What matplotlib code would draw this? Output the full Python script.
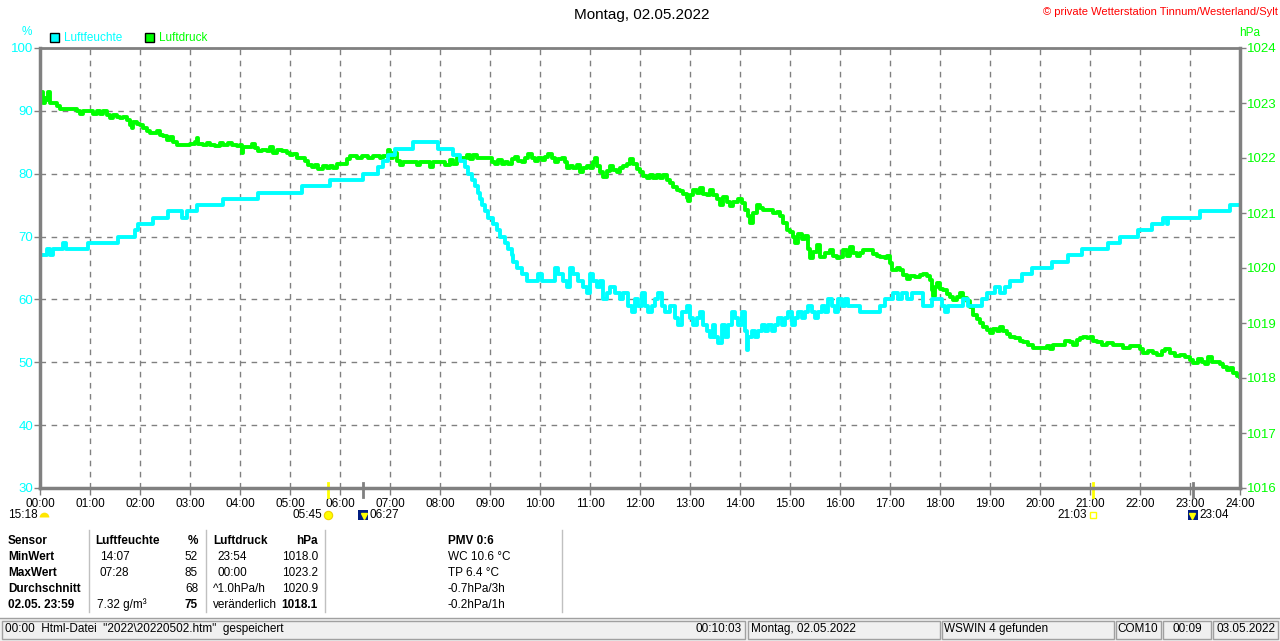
import matplotlib.pyplot as plt
import matplotlib.transforms as mtransforms
from matplotlib.patches import Rectangle
from matplotlib.lines import Line2D

plt.rcParams['font.family'] = ['Liberation Sans', 'DejaVu Sans']

CYAN = '#00ffff'
GREEN = '#00ff00'
GRAY = '#808080'
W, H = 1280, 641

# Luftfeuchte (%), Zeitpunkte der Stufen
hum_time = ['00:00', '00:08', '00:12', '00:16', '00:28', '00:31', '00:58', '01:34', '01:54', '01:58',
            '02:16', '02:34', '02:50', '02:56', '03:08', '03:40', '04:22', '05:14', '05:48', '06:28',
            '06:46', '06:52', '06:58', '07:06', '07:28', '07:58', '08:16', '08:24', '08:30', '08:34',
            '08:38', '08:42', '08:46', '08:48', '08:50', '08:54', '08:58', '09:04', '09:08', '09:12',
            '09:18', '09:22', '09:26', '09:28', '09:32', '09:38', '09:44', '09:58', '10:02', '10:18',
            '10:22', '10:28', '10:32', '10:36', '10:40', '10:46', '10:52', '10:56', '11:00', '11:04',
            '11:08', '11:12', '11:16', '11:20', '11:24', '11:30', '11:36', '11:40', '11:46', '11:50',
            '11:54', '11:58', '12:02', '12:06', '12:10', '12:14', '12:18', '12:22', '12:26', '12:30',
            '12:36', '12:42', '12:46', '12:50', '12:56', '13:00', '13:04', '13:08', '13:12', '13:16',
            '13:20', '13:24', '13:28', '13:30', '13:34', '13:38', '13:42', '13:46', '13:50', '13:54',
            '13:58', '14:02', '14:06', '14:08', '14:10', '14:14', '14:18', '14:22', '14:26', '14:30',
            '14:34', '14:38', '14:42', '14:46', '14:50', '14:54', '14:58', '15:02', '15:06', '15:10',
            '15:14', '15:18', '15:22', '15:26', '15:30', '15:34', '15:38', '15:42', '15:46', '15:50',
            '15:54', '15:58', '16:02', '16:06', '16:10', '16:24', '16:48', '16:54', '17:04', '17:10',
            '17:14', '17:20', '17:26', '17:40', '17:50', '18:02', '18:06', '18:10', '18:28', '18:34',
            '18:50', '18:56', '19:06', '19:12', '19:18', '19:24', '19:38', '19:50', '20:14', '20:34',
            '20:50', '21:22', '21:36', '21:58', '22:14', '22:28', '22:32', '22:34', '23:12', '23:48',
            '24:00']
hum_value = [67, 68, 67, 68, 69, 68, 69, 70, 71, 72,
             73, 74, 73, 74, 75, 76, 77, 78, 79, 80,
             81, 82, 83, 84, 85, 84, 83, 82, 81, 80,
             79, 78, 77, 76, 75, 74, 73, 72, 71, 70,
             69, 68, 67, 66, 65, 64, 63, 64, 63, 65,
             64, 63, 62, 65, 64, 63, 62, 61, 64, 63,
             62, 63, 60, 61, 62, 61, 60, 61, 59, 58,
             60, 59, 61, 59, 58, 59, 60, 61, 59, 58,
             59, 57, 56, 58, 59, 57, 56, 57, 58, 56,
             55, 54, 56, 54, 53, 56, 54, 56, 58, 57,
             56, 58, 55, 52, 54, 55, 54, 55, 56, 55,
             56, 55, 56, 57, 56, 57, 58, 56, 57, 58,
             57, 58, 59, 58, 57, 58, 59, 58, 60, 59,
             58, 60, 59, 60, 59, 58, 59, 60, 61, 60,
             61, 60, 61, 59, 60, 59, 58, 59, 60, 59,
             60, 61, 62, 61, 62, 63, 64, 65, 66, 67,
             68, 69, 70, 71, 72, 73, 72, 73, 74, 75,
             75]

# Luftdruck (hPa)
pres_time = ['00:00', '00:02', '00:04', '00:06', '00:08', '00:10', '00:12', '00:20', '00:24', '00:44',
             '00:48', '00:52', '01:04', '01:08', '01:12', '01:16', '01:20', '01:24', '01:28', '01:32',
             '01:36', '01:40', '01:44', '01:48', '01:50', '01:52', '01:56', '02:00', '02:04', '02:08',
             '02:12', '02:20', '02:24', '02:28', '02:32', '02:36', '02:40', '02:44', '03:00', '03:06',
             '03:08', '03:10', '03:16', '03:20', '03:24', '03:30', '03:36', '03:40', '03:46', '03:50',
             '03:56', '04:00', '04:02', '04:04', '04:14', '04:18', '04:22', '04:26', '04:32', '04:36',
             '04:40', '04:44', '04:50', '04:56', '05:00', '05:04', '05:08', '05:18', '05:22', '05:26',
             '05:30', '05:34', '05:40', '05:44', '05:48', '05:52', '05:56', '06:08', '06:12', '06:20',
             '06:26', '06:34', '06:40', '06:48', '06:52', '06:58', '07:00', '07:04', '07:08', '07:12',
             '07:16', '07:32', '07:36', '07:48', '07:52', '08:06', '08:12', '08:16', '08:20', '08:32',
             '08:36', '08:40', '08:44', '09:02', '09:06', '09:10', '09:14', '09:18', '09:22', '09:26',
             '09:30', '09:34', '09:38', '09:42', '09:46', '09:50', '09:54', '09:58', '10:02', '10:06',
             '10:10', '10:14', '10:18', '10:22', '10:26', '10:30', '10:32', '10:36', '10:40', '10:44',
             '10:48', '10:52', '10:56', '11:00', '11:04', '11:06', '11:08', '11:12', '11:16', '11:20',
             '11:24', '11:28', '11:32', '11:36', '11:40', '11:44', '11:48', '11:52', '11:56', '12:00',
             '12:04', '12:08', '12:12', '12:16', '12:20', '12:24', '12:28', '12:32', '12:36', '12:40',
             '12:44', '12:48', '12:52', '12:56', '12:58', '13:00', '13:04', '13:08', '13:12', '13:16',
             '13:20', '13:24', '13:28', '13:32', '13:36', '13:40', '13:44', '13:48', '13:52', '13:58',
             '14:02', '14:06', '14:10', '14:12', '14:16', '14:20', '14:24', '14:28', '14:40', '14:44',
             '14:48', '14:52', '14:56', '15:00', '15:04', '15:06', '15:10', '15:14', '15:18', '15:22',
             '15:24', '15:28', '15:32', '15:36', '15:42', '15:48', '15:52', '15:56', '16:00', '16:04',
             '16:08', '16:12', '16:16', '16:20', '16:24', '16:28', '16:40', '16:44', '16:48', '16:54',
             '16:56', '17:00', '17:02', '17:08', '17:12', '17:16', '17:20', '17:24', '17:30', '17:36',
             '17:40', '17:44', '17:48', '17:50', '17:52', '17:54', '17:56', '18:00', '18:04', '18:08',
             '18:12', '18:16', '18:20', '18:24', '18:28', '18:32', '18:36', '18:40', '18:44', '18:48',
             '18:52', '18:56', '19:00', '19:04', '19:08', '19:12', '19:16', '19:20', '19:24', '19:30',
             '19:36', '19:40', '19:46', '19:52', '20:08', '20:12', '20:16', '20:26', '20:30', '20:36',
             '20:40', '20:44', '20:48', '20:52', '20:56', '21:00', '21:04', '21:08', '21:14', '21:20',
             '21:28', '21:40', '21:48', '22:00', '22:04', '22:10', '22:16', '22:20', '22:26', '22:30',
             '22:36', '22:42', '22:48', '22:54', '23:00', '23:04', '23:10', '23:14', '23:18', '23:22',
             '23:26', '23:36', '23:40', '23:44', '23:48', '23:52', '23:56', '24:00']
pres_value = [1023.10, 1023.20, 1023.00, 1023.10, 1023.05, 1023.20, 1023.00, 1022.95, 1022.90, 1022.85,
              1022.80, 1022.85, 1022.80, 1022.85, 1022.80, 1022.85, 1022.78, 1022.72, 1022.78, 1022.75,
              1022.72, 1022.75, 1022.69, 1022.60, 1022.55, 1022.65, 1022.62, 1022.60, 1022.55, 1022.50,
              1022.45, 1022.50, 1022.42, 1022.40, 1022.33, 1022.38, 1022.30, 1022.24, 1022.26, 1022.30,
              1022.36, 1022.26, 1022.24, 1022.28, 1022.24, 1022.22, 1022.27, 1022.24, 1022.28, 1022.24,
              1022.22, 1022.24, 1022.10, 1022.20, 1022.25, 1022.18, 1022.12, 1022.15, 1022.12, 1022.20,
              1022.10, 1022.15, 1022.12, 1022.10, 1022.05, 1022.08, 1022.00, 1021.95, 1021.88, 1021.84,
              1021.88, 1021.80, 1021.86, 1021.82, 1021.86, 1021.82, 1021.90, 1021.98, 1022.04, 1022.00,
              1022.04, 1022.00, 1022.04, 1022.00, 1022.04, 1022.15, 1022.00, 1022.10, 1021.95, 1021.88,
              1021.93, 1021.88, 1021.93, 1021.84, 1021.93, 1021.88, 1021.96, 1021.90, 1022.00, 1022.05,
              1021.98, 1022.05, 1022.00, 1021.93, 1021.90, 1021.96, 1021.90, 1021.93, 1021.90, 1021.98,
              1022.02, 1021.95, 1021.92, 1022.00, 1022.07, 1022.00, 1021.95, 1022.00, 1021.96, 1022.02,
              1022.07, 1022.00, 1021.93, 1021.98, 1022.00, 1021.93, 1021.82, 1021.86, 1021.82, 1021.88,
              1021.75, 1021.82, 1021.86, 1021.82, 1021.93, 1022.00, 1021.85, 1021.75, 1021.66, 1021.76,
              1021.85, 1021.78, 1021.75, 1021.82, 1021.86, 1021.90, 1021.98, 1021.90, 1021.80, 1021.75,
              1021.68, 1021.64, 1021.70, 1021.64, 1021.70, 1021.64, 1021.70, 1021.60, 1021.54, 1021.48,
              1021.42, 1021.40, 1021.34, 1021.28, 1021.22, 1021.32, 1021.42, 1021.36, 1021.45, 1021.35,
              1021.32, 1021.42, 1021.33, 1021.25, 1021.15, 1021.30, 1021.20, 1021.13, 1021.20, 1021.25,
              1021.18, 1021.05, 1020.95, 1020.82, 1021.00, 1021.15, 1021.10, 1021.05, 1021.00, 1021.02,
              1020.95, 1020.82, 1020.70, 1020.66, 1020.56, 1020.45, 1020.62, 1020.52, 1020.58, 1020.35,
              1020.18, 1020.30, 1020.42, 1020.20, 1020.28, 1020.32, 1020.22, 1020.18, 1020.20, 1020.33,
              1020.22, 1020.38, 1020.28, 1020.22, 1020.28, 1020.33, 1020.25, 1020.22, 1020.20, 1020.18,
              1020.22, 1020.10, 1019.97, 1020.00, 1019.96, 1019.88, 1019.80, 1019.86, 1019.84, 1019.88,
              1019.90, 1019.85, 1019.78, 1019.60, 1019.50, 1019.65, 1019.72, 1019.62, 1019.60, 1019.52,
              1019.47, 1019.42, 1019.48, 1019.55, 1019.45, 1019.40, 1019.30, 1019.15, 1019.08, 1019.00,
              1018.92, 1018.87, 1018.82, 1018.90, 1018.85, 1018.92, 1018.85, 1018.80, 1018.75, 1018.72,
              1018.68, 1018.65, 1018.60, 1018.55, 1018.58, 1018.52, 1018.60, 1018.60, 1018.68, 1018.65,
              1018.60, 1018.70, 1018.72, 1018.75, 1018.72, 1018.75, 1018.68, 1018.65, 1018.60, 1018.64,
              1018.60, 1018.55, 1018.58, 1018.52, 1018.45, 1018.50, 1018.45, 1018.42, 1018.50, 1018.52,
              1018.45, 1018.40, 1018.42, 1018.38, 1018.32, 1018.28, 1018.35, 1018.30, 1018.25, 1018.38,
              1018.30, 1018.25, 1018.20, 1018.15, 1018.18, 1018.10, 1018.03, 1018.02]

hum_ticks = [30, 40, 50, 60, 70, 80, 90, 100]
pres_ticks = [1016, 1017, 1018, 1019, 1020, 1021, 1022, 1023, 1024]
hour_labels = ['%02d:00' % h for h in range(25)]

# Sonne / Mond Auf- und Untergang
sun_rise, sun_set = '05:45', '21:03'
moon_rise, moon_set = '06:27', '23:04'
prev_event = '15:18'

sensor_col = ['Sensor', 'MinWert', 'MaxWert', 'Durchschnitt', '02.05. 23:59']
hum_head, hum_unit = 'Luftfeuchte', '%'
hum_when = ['14:07', '07:28', '', '7.32 g/m³']
hum_vals = ['52', '85', '68', '75']
pres_head, pres_unit = 'Luftdruck', 'hPa'
pres_when = ['23:54', '00:00', '^1.0hPa/h', 'veränderlich']
pres_vals = ['1018.0', '1023.2', '1020.9', '1018.1']
pmv_lines = ['PMV 0:6', 'WC 10.6 °C', 'TP 6.4 °C', '-0.7hPa/3h', '-0.2hPa/1h']

status_cells = ['00:10:03', 'Montag, 02.05.2022', 'WSWIN 4 gefunden', 'COM10', '00:09', '03.05.2022']
status_msg = '00:00  Html-Datei  "2022\\20220502.htm"  gespeichert'


def to_h(t):
    return [int(s[:2]) + int(s[3:]) / 60 for s in t]


def fx(x):
    return x / W


def fy(y):
    return 1 - y / H


fig = plt.figure(figsize=(W / 100, H / 100), dpi=100)
rect = [fx(40), fy(488), 1200 / W, 440 / H]

# grid axis at the bottom
gax = fig.add_axes(rect, zorder=0)
gax.set_xlim(0, 24)
gax.set_ylim(30, 100)
gax.set_xticks(range(25))
gax.set_yticks(hum_ticks)
gax.grid(True, color=GRAY, linestyle=(0, (4, 4)), linewidth=1)
gax.tick_params(left=False, bottom=False, labelleft=False, labelbottom=False)
for s in gax.spines.values():
    s.set_visible(False)

ax2 = fig.add_axes(rect, zorder=1)
ax2.patch.set_visible(False)
ax2.plot(to_h(pres_time), pres_value, color=GREEN, lw=2.8, drawstyle='steps-post')
ax2.set_xlim(0, 24)
ax2.set_ylim(1016, 1024)
ax2.set_yticks(pres_ticks)
ax2.yaxis.tick_right()
ax2.tick_params(axis='y', colors=GRAY, labelcolor=GREEN, length=4, width=1, pad=1, labelsize=9.5)
ax2.tick_params(axis='x', bottom=False, labelbottom=False)
for s in ax2.spines.values():
    s.set_visible(False)

ax = fig.add_axes(rect, zorder=2)
ax.patch.set_visible(False)
ax.plot(to_h(hum_time), hum_value, color=CYAN, lw=2.8, drawstyle='steps-post')
ax.set_xlim(0, 24)
ax.set_ylim(30, 100)
ax.set_yticks(hum_ticks)
ax.set_xticks(range(25))
ax.set_xticklabels(hour_labels)
ax.tick_params(axis='y', colors=GRAY, labelcolor=CYAN, length=4, width=1, pad=1, labelsize=9.5)
ax.tick_params(axis='x', colors=GRAY, labelcolor='black', length=5, width=1, pad=2.5, labelsize=8.5)
for s in ax.spines.values():
    s.set_color(GRAY)
    s.set_linewidth(2.5)
ax.spines['top'].set_linewidth(2)

# Auf-/Untergangsmarken unter der Achse
trans = mtransforms.blended_transform_factory(ax.transData, ax.transAxes)
for t, c in [(sun_rise, '#ffff00'), (sun_set, '#ffff00'), (moon_rise, GRAY), (moon_set, GRAY)]:
    h = to_h([t])[0]
    ax.plot([h, h], [0.012, -0.02], color=c, lw=2, transform=trans, clip_on=False)

fs = 8.5
fig.text(fx(642), fy(15), 'Montag, 02.05.2022', ha='center', va='center', fontsize=11)
fig.text(fx(1278), fy(12), '© private Wetterstation Tinnum/Westerland/Sylt', ha='right', va='center',
         fontsize=8, color='red')
fig.text(fx(27), fy(32), '%', ha='center', va='center', fontsize=8.5, color=CYAN)
fig.text(fx(1250), fy(33), 'hPa', ha='center', va='center', fontsize=8.5, color=GREEN)
fig.add_artist(Rectangle((fx(50), fy(42)), 9 / W, 9 / H, facecolor=CYAN, edgecolor='black', lw=1))
fig.text(fx(64), fy(38), 'Luftfeuchte', ha='left', va='center', fontsize=8.5, color=CYAN)
fig.add_artist(Rectangle((fx(145), fy(42)), 9 / W, 9 / H, facecolor=GREEN, edgecolor='black', lw=1))
fig.text(fx(159), fy(38), 'Luftdruck', ha='left', va='center', fontsize=8.5, color=GREEN)

# Zeiten unter der Achse mit Symbolen
ty = fy(515)
fig.text(fx(38), ty, prev_event, ha='right', va='center', fontsize=fs)
fig.add_artist(Line2D([fx(44)], [fy(517)], marker='o', fillstyle='top', markersize=7,
                      color='#ffe600', markeredgewidth=0))
fig.text(fx(322), ty, sun_rise, ha='right', va='center', fontsize=fs)
fig.add_artist(Line2D([fx(328)], [ty], marker='o', markersize=6, color='#ffff00',
                      markeredgecolor='#f0d000', markeredgewidth=0.8))
fig.add_artist(Rectangle((fx(358), fy(520)), 10 / W, 10 / H, facecolor='#001c80', edgecolor='none'))
fig.add_artist(Line2D([fx(364)], [fy(516)], marker='v', markersize=4, color='#ffff00'))
fig.text(fx(369), ty, moon_rise, ha='left', va='center', fontsize=fs)
fig.text(fx(1087), ty, sun_set, ha='right', va='center', fontsize=fs)
fig.add_artist(Line2D([fx(1093)], [ty], marker='s', markersize=5, color='#ffff00',
                      fillstyle='none', markeredgewidth=1))
fig.add_artist(Rectangle((fx(1188), fy(520)), 10 / W, 10 / H, facecolor='#001c80', edgecolor='none'))
fig.add_artist(Line2D([fx(1192)], [fy(516)], marker='v', markersize=4, color='#ffff00'))
fig.text(fx(1199), ty, moon_set, ha='left', va='center', fontsize=fs)

# Tabelle
rows_y = [541, 557, 573, 589, 605]
tfs = 8.5
for y, s in zip(rows_y, sensor_col):
    fig.text(fx(8), fy(y), s, ha='left', va='center', fontsize=tfs, fontweight='bold')
fig.text(fx(95), fy(rows_y[0]), hum_head, ha='left', va='center', fontsize=tfs, fontweight='bold')
fig.text(fx(198), fy(rows_y[0]), hum_unit, ha='right', va='center', fontsize=tfs, fontweight='bold')
fig.text(fx(213), fy(rows_y[0]), pres_head, ha='left', va='center', fontsize=tfs, fontweight='bold')
fig.text(fx(318), fy(rows_y[0]), pres_unit, ha='right', va='center', fontsize=tfs, fontweight='bold')
for i, y in enumerate(rows_y[1:]):
    last = i == 3
    fig.text(fx(97 if last else 100), fy(y), hum_when[i], ha='left', va='center', fontsize=tfs)
    fig.text(fx(198), fy(y), hum_vals[i], ha='right', va='center', fontsize=tfs,
             fontweight='bold' if last else 'normal')
    fig.text(fx(213 if i >= 2 else 217), fy(y), pres_when[i], ha='left', va='center', fontsize=tfs)
    fig.text(fx(318), fy(y), pres_vals[i], ha='right', va='center', fontsize=tfs,
             fontweight='bold' if last else 'normal')
for y, s in zip(rows_y, pmv_lines):
    fig.text(fx(448), fy(y), s, ha='left', va='center', fontsize=tfs,
             fontweight='bold' if s.startswith('PMV') else 'normal')
for x in [89, 206, 325, 562]:
    fig.add_artist(Line2D([fx(x), fx(x)], [fy(530), fy(612)], color='#c0c0c0', lw=1))

# Statusleiste
fig.add_artist(Rectangle((0, 0), 1, fy(619), facecolor='#f0f0f0', edgecolor='none'))
fig.add_artist(Line2D([0, 1], [fy(618), fy(618)], color='#a0a0a0', lw=1))
panels = [(2, 745), (748, 940), (942, 1114), (1116, 1161), (1163, 1211), (1213, 1278)]
for x0, x1 in panels:
    fig.add_artist(Rectangle((fx(x0), fy(639)), (x1 - x0) / W, 18 / H, facecolor='none',
                             edgecolor='#a0a0a0', lw=1))
sy = fy(629)
fig.text(fx(5), sy, status_msg, ha='left', va='center', fontsize=tfs)
fig.text(fx(742), sy, status_cells[0], ha='right', va='center', fontsize=tfs)
fig.text(fx(751), sy, status_cells[1], ha='left', va='center', fontsize=tfs)
fig.text(fx(944), sy, status_cells[2], ha='left', va='center', fontsize=tfs)
fig.text(fx(1138), sy, status_cells[3], ha='center', va='center', fontsize=tfs)
fig.text(fx(1187), sy, status_cells[4], ha='center', va='center', fontsize=tfs)
fig.text(fx(1246), sy, status_cells[5], ha='center', va='center', fontsize=tfs)

fig.savefig('out.png', dpi=100)
